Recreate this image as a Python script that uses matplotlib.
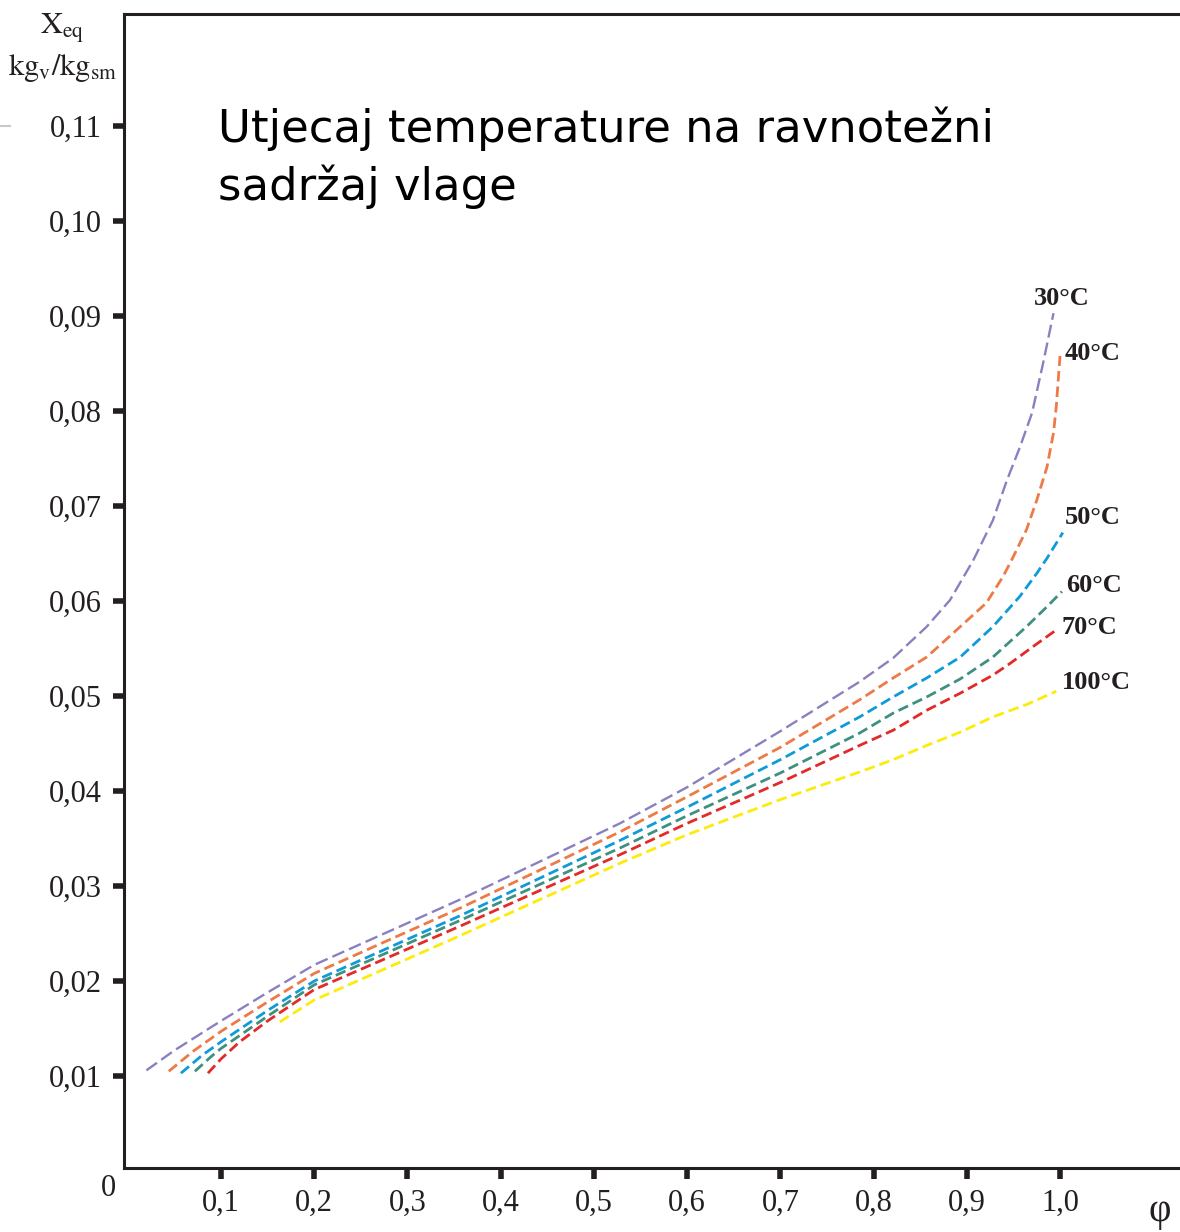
import matplotlib
matplotlib.use("Agg")
import matplotlib.pyplot as plt
from matplotlib.lines import Line2D

# relativna vlažnost zraka phi [-] i ravnotežni sadržaj vlage X_eq [kg_v/kg_sm]
phi_30 = [0.020, 0.050, 0.100, 0.150, 0.200, 0.357, 0.528, 0.600, 0.700, 0.785,
          0.821, 0.857, 0.882, 0.907, 0.928, 0.943, 0.957, 0.970, 0.982, 0.993]
x_30 = [0.0106, 0.0127, 0.0158, 0.0188, 0.0217, 0.0286, 0.0366, 0.0404, 0.0463, 0.0515,
        0.0540, 0.0573, 0.0601, 0.0643, 0.0685, 0.0727, 0.0762, 0.0798, 0.0851, 0.0903]

phi_40 = [0.044, 0.070, 0.100, 0.150, 0.200, 0.357, 0.528, 0.600, 0.700, 0.785, 0.821,
          0.857, 0.893, 0.921, 0.939, 0.948, 0.964, 0.975, 0.986, 0.993, 0.996, 1.000]
x_40 = [0.0105, 0.0126, 0.0147, 0.0178, 0.0208, 0.0277, 0.0357, 0.0394, 0.0446, 0.0496, 0.0519,
        0.0541, 0.0573, 0.0598, 0.0626, 0.0643, 0.0675, 0.0706, 0.0741, 0.0777, 0.0805, 0.0858]

phi_50 = [0.057, 0.080, 0.100, 0.150, 0.200, 0.357, 0.528, 0.600, 0.700, 0.785, 0.821, 0.857,
          0.893, 0.928, 0.957, 0.975, 0.986, 1.003]
x_50 = [0.0103, 0.0122, 0.0136, 0.0169, 0.0200, 0.0269, 0.0348, 0.0383, 0.0433, 0.0478, 0.0499, 0.0519,
        0.0541, 0.0573, 0.0605, 0.0629, 0.0645, 0.0672]

phi_60 = [0.072, 0.090, 0.100, 0.150, 0.200, 0.357, 0.528, 0.600, 0.700, 0.785, 0.821, 0.857,
          0.893, 0.928, 0.964, 0.986, 1.002]
x_60 = [0.0105, 0.0121, 0.0129, 0.0163, 0.0196, 0.0264, 0.0340, 0.0374, 0.0419, 0.0461, 0.0482, 0.0499,
        0.0518, 0.0541, 0.0573, 0.0594, 0.0610]

phi_70 = [0.086, 0.100, 0.120, 0.150, 0.200, 0.357, 0.528, 0.600, 0.700, 0.785, 0.821, 0.857,
          0.893, 0.928, 0.946, 0.971, 0.998]
x_70 = [0.0103, 0.0118, 0.0136, 0.0158, 0.0191, 0.0258, 0.0333, 0.0366, 0.0409, 0.0448, 0.0464, 0.0485,
        0.0503, 0.0522, 0.0534, 0.0552, 0.0571]

phi_100 = [0.163, 0.200, 0.357, 0.528, 0.600, 0.700, 0.785, 0.821, 0.857, 0.893, 0.928, 0.964, 0.996]
x_100 = [0.0157, 0.0180, 0.0248, 0.0324, 0.0354, 0.0391, 0.0420, 0.0433, 0.0448, 0.0462, 0.0478, 0.0491, 0.0505]

temp_labels = ["30°C", "40°C", "50°C", "60°C", "70°C", "100°C"]

x_ticks = [0.1, 0.2, 0.3, 0.4, 0.5, 0.6, 0.7, 0.8, 0.9, 1.0]
x_tick_labels = ["0,1", "0,2", "0,3", "0,4", "0,5", "0,6", "0,7", "0,8", "0,9", "1,0"]
y_ticks = [0.01, 0.02, 0.03, 0.04, 0.05, 0.06, 0.07, 0.08, 0.09, 0.10, 0.11]
y_tick_labels = ["0,01", "0,02", "0,03", "0,04", "0,05", "0,06", "0,07", "0,08", "0,09", "0,10", "0,11"]

curves = [(phi_30, x_30), (phi_40, x_40), (phi_50, x_50), (phi_60, x_60), (phi_70, x_70), (phi_100, x_100)]
colors = ["#8a80c0", "#ee7a45", "#0f9ad8", "#3e9080", "#e22a28", "#fbec0c"]
# pomak natpisa od kraja krivulje (pikseli)
label_offsets = [(-20, 15), (5, 2), (2, 15), (4, 6), (3, 1), (6, 9)]

ink = "#231f20"
serif = ["Liberation Serif", "DejaVu Serif"]
plt.rcParams["mathtext.fontset"] = "stix"

fig = plt.figure(figsize=(11.8, 12.32), dpi=100)
ax = fig.add_axes([124 / 1180, 64 / 1232, 1056 / 1180, 1154 / 1232])

for (phi, xeq), col, lab, off in zip(curves, colors, temp_labels, label_offsets):
    if lab == "30°C":
        ax.plot(phi, xeq, color=col, lw=1.7, dashes=(5.5, 2.2), dash_capstyle="butt")
    else:
        ax.plot(phi, xeq, color=col, lw=2.0, dashes=(3.8, 1.8), dash_capstyle="butt")
    ax.annotate(lab, (phi[-1], xeq[-1]), xytext=off, textcoords="offset pixels",
                ha="left", va="center", fontsize=19, fontweight="bold",
                family=serif, color=ink)

ax.set_xlim(-0.00405, 1.1287)
ax.set_ylim(0.00032, 0.12179)

ax.spines["right"].set_visible(False)
for side in ("left", "bottom", "top"):
    ax.spines[side].set_linewidth(2.2)
    ax.spines[side].set_color(ink)

ax.set_xticks(x_ticks)
ax.set_xticklabels(x_tick_labels, family=serif, fontsize=22, color=ink)
ax.set_yticks(y_ticks)
ax.set_yticklabels(y_tick_labels, family=serif, fontsize=22, color=ink)
ax.tick_params(axis="both", direction="out", length=8, width=4, color=ink)
ax.tick_params(axis="x", pad=7)
ax.tick_params(axis="y", pad=8)

# ishodište, oznake osi i naslov
fig.text(108 / 1180, 1 - 1188 / 1232, "0", family=serif, fontsize=22, color=ink,
         ha="center", va="center")
fig.text(1160 / 1180, 1 - 1212 / 1232, "φ", family=serif, fontsize=28, color=ink,
         ha="center", va="center")
fig.text(62 / 1180, 1 - 28 / 1232, r"$\mathrm{X}_{\mathrm{eq}}$", fontsize=22, color=ink,
         ha="center", va="center")
fig.text(63 / 1180, 1 - 68 / 1232, r"$\mathrm{kg}_{\mathrm{v}}/\mathrm{kg}_{\mathrm{sm}}$",
         fontsize=22, color=ink, ha="center", va="center")

fig.text(218 / 1180, 1 - 142 / 1232, "Utjecaj temperature na ravnotežni", family="DejaVu Sans",
         fontsize=32.3, color="black", ha="left", va="baseline")
fig.text(218 / 1180, 1 - 200 / 1232, "sadržaj vlage", family="DejaVu Sans",
         fontsize=32.3, color="black", ha="left", va="baseline")

fig.add_artist(Line2D([0, 10 / 1180], [1 - 126 / 1232, 1 - 126 / 1232], color="#c8c8c8", lw=1.5))

fig.savefig("out.png", dpi=100)
